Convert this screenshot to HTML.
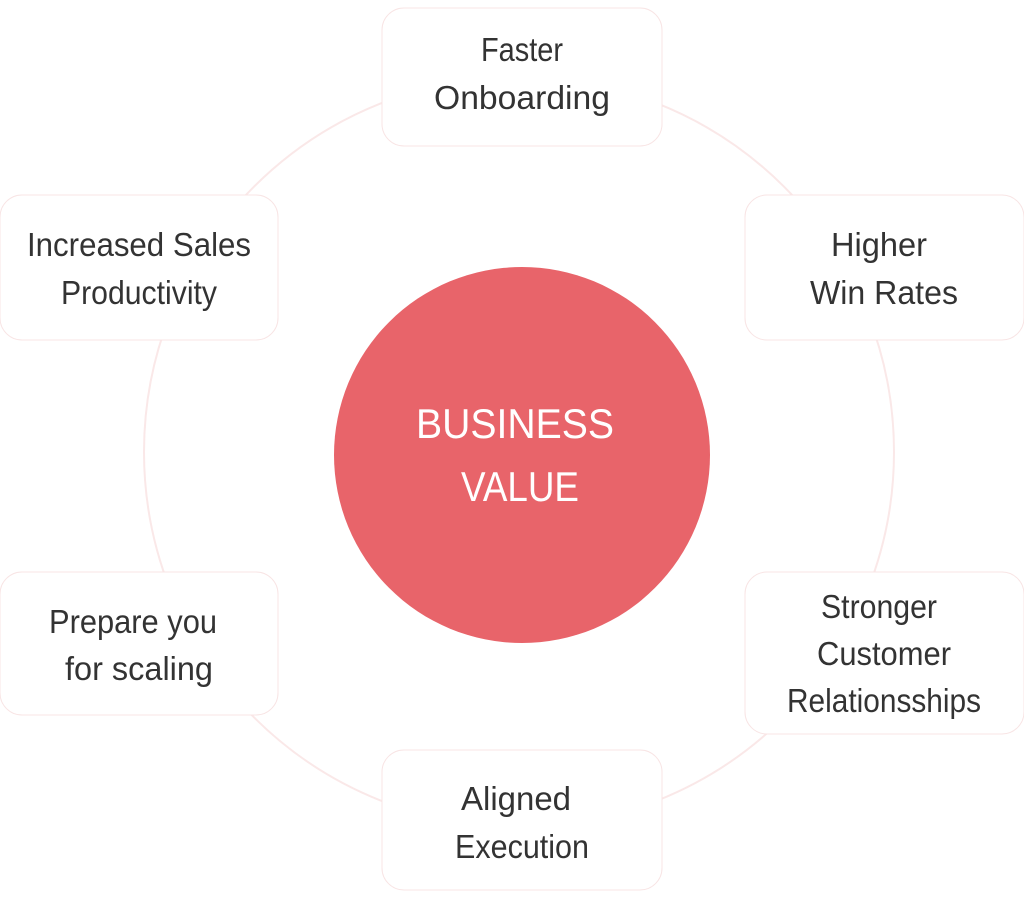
<!DOCTYPE html>
<html><head><meta charset="utf-8"><style>
html,body{margin:0;padding:0;background:#fff;width:1024px;height:897px;overflow:hidden}
svg{display:block}
text{font-family:"Liberation Sans",sans-serif;fill:#333;font-size:33px;text-anchor:middle}
.w{fill:#fff;font-size:42px}
</style></head><body>
<svg width="1024" height="897" viewBox="0 0 1024 897">
<circle cx="519" cy="452" r="375" fill="none" stroke="#fae8e8" stroke-width="2"/>
<g fill="#fff" stroke="#f8e4e4" stroke-width="1">
<rect x="382" y="8" width="280" height="138" rx="22"/>
<rect x="0" y="195" width="278" height="145" rx="22"/>
<rect x="745" y="195" width="279" height="145" rx="22"/>
<rect x="0" y="572" width="278" height="143" rx="22"/>
<rect x="745" y="572" width="279" height="162" rx="22"/>
<rect x="382" y="750" width="280" height="140" rx="22"/>
</g>
<circle cx="522" cy="455" r="188" fill="#e8646a"/>
<text class="w" x="515" y="438" textLength="198" lengthAdjust="spacingAndGlyphs">BUSINESS</text>
<text class="w" x="520" y="501" textLength="118" lengthAdjust="spacingAndGlyphs">VALUE</text>
<text x="522" y="61" textLength="82" lengthAdjust="spacingAndGlyphs">Faster</text>
<text x="522" y="109" textLength="176" lengthAdjust="spacingAndGlyphs">Onboarding</text>
<text x="139" y="256" textLength="224" lengthAdjust="spacingAndGlyphs">Increased Sales</text>
<text x="139" y="304" textLength="156" lengthAdjust="spacingAndGlyphs">Productivity</text>
<text x="879" y="256" textLength="96" lengthAdjust="spacingAndGlyphs">Higher</text>
<text x="884" y="304" textLength="148" lengthAdjust="spacingAndGlyphs">Win Rates</text>
<text x="133" y="633" textLength="168" lengthAdjust="spacingAndGlyphs">Prepare you</text>
<text x="139" y="680" textLength="148" lengthAdjust="spacingAndGlyphs">for scaling</text>
<text x="879" y="618" textLength="116" lengthAdjust="spacingAndGlyphs">Stronger</text>
<text x="884" y="665" textLength="134" lengthAdjust="spacingAndGlyphs">Customer</text>
<text x="884" y="712" textLength="194" lengthAdjust="spacingAndGlyphs">Relationsships</text>
<text x="516" y="810" textLength="110" lengthAdjust="spacingAndGlyphs">Aligned</text>
<text x="522" y="858" textLength="134" lengthAdjust="spacingAndGlyphs">Execution</text>
</svg>
</body></html>
